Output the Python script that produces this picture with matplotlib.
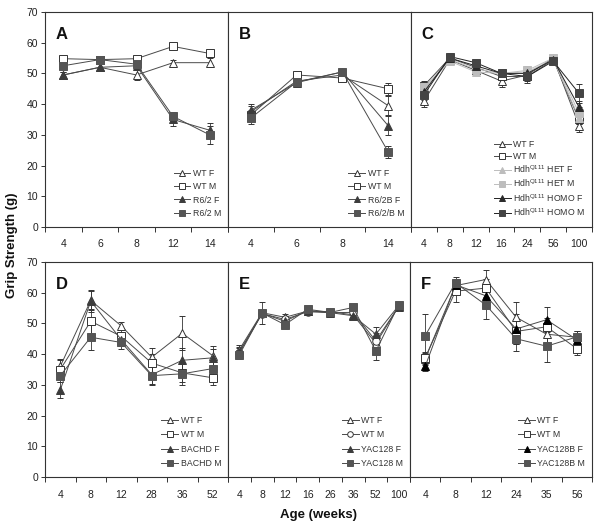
import matplotlib
matplotlib.use("Agg")
import matplotlib.pyplot as plt
import numpy as np

plt.rcParams['font.family'] = ['Liberation Sans', 'DejaVu Sans']

# ---------------- data ----------------
a_cats = ["4", "6", "8", "12", "14"]
a_wtf = [49.5, 52, 49.5, 53.5, 53.5]
a_wtm = [54.8, 54.5, 54.8, 58.8, 56.5]
a_mf = [49.5, 52, 52.5, 35, 31.5]
a_mm = [52.5, 54.5, 53, 36, 30]
a_wtf_e = [1, 1, 1.5, 1, 1.5]
a_wtm_e = [1, 1, 1, 1, 1]
a_mf_e = [1, 1, 1, 2, 2.5]
a_mm_e = [1, 1, 1, 1.5, 3]

b_cats = ["4", "6", "8", "14"]
b_wtf = [37.5, 47.5, 49.5, 39.5]
b_wtm = [36.5, 49.5, 48.5, 45]
b_mf = [38, 47, 50.5, 33]
b_mm = [35.5, 47.2, 50.5, 24.5]
b_wtf_e = [2, 1, 1, 3]
b_wtm_e = [1.5, 1, 1, 2]
b_mf_e = [2, 1, 1, 3]
b_mm_e = [2, 1, 1, 2]

c_cats = ["4", "8", "12", "16", "24", "56", "100"]
c_wtf = [41, 54.5, 51, 47.5, 49.5, 55, 33]
c_wtm = [46, 55, 52, 49, 49, 54.5, 35]
c_hetf = [45, 54, 50.5, 50, 50.5, 54.5, 35.5]
c_hetm = [45.5, 54.5, 51.5, 50, 51, 55, 37]
c_homf = [44, 55, 52.5, 50, 50, 54.5, 39]
c_homm = [43, 55.5, 53.5, 50, 49, 54, 43.5]
c_wtf_e = [2, 1, 1, 2, 1.5, 1, 2]
c_wtm_e = [1.5, 1, 1, 2, 2, 1, 1.5]
c_hetf_e = [1.5, 1, 1, 1.5, 1.5, 1, 2]
c_hetm_e = [1.5, 1, 1, 1.5, 1.5, 1, 2]
c_homf_e = [1.5, 1, 1, 1.5, 1.5, 1, 2]
c_homm_e = [1.5, 1, 1, 1.5, 1.5, 1, 3]

d_cats = ["4", "8", "12", "28", "36", "52"]
d_wtf = [36, 57.5, 49.2, 39, 46.8, 39.5]
d_wtm = [35, 50.7, 45.8, 37.1, 33.9, 32.3]
d_mf = [28.3, 57.3, 44.7, 33.3, 38, 38.8]
d_mm = [33, 45.5, 43.8, 33, 33.6, 35.3]
d_wtf_e = [2.5, 3, 1.2, 3, 5.5, 3]
d_wtm_e = [3, 4, 2, 3, 3, 2.5]
d_mf_e = [2.5, 3.5, 2, 3, 4, 3]
d_mm_e = [2, 4, 2, 3, 3.5, 3]

e_cats = ["4", "8", "12", "16", "26", "36", "52", "100"]
e_wtf = [41.5, 53.5, 52, 54, 53.8, 52.8, 43.5, 55.5]
e_wtm = [40.5, 53.2, 51.3, 53.8, 53.5, 53.6, 44.3, 55.5]
e_mf = [40.8, 53.3, 50.7, 54.2, 53.5, 52.5, 46.5, 55.8]
e_mm = [39.8, 53.4, 49.6, 54.6, 53.6, 55.2, 41, 56]
e_wtf_e = [1.5, 1, 1, 1, 1, 1, 2.5, 1]
e_wtm_e = [1.5, 1, 1, 1, 1, 1, 2.5, 1]
e_mf_e = [1.5, 1, 1, 1, 1, 1, 2.5, 1]
e_mm_e = [1.5, 3.5, 1, 1, 1, 1, 3, 1]

f_cats = ["4", "8", "12", "24", "35", "56"]
f_wtf = [38.5, 62.3, 64.3, 52, 46.5, 45.5]
f_wtm = [38.8, 60.5, 61.5, 47.4, 48.9, 41.8]
f_mf = [36, 62.6, 59, 48.2, 51.2, 44.7]
f_mm = [46, 63.2, 56, 45, 42.6, 45.6]
f_wtf_e = [2, 2, 3, 5, 3, 2]
f_wtm_e = [2, 3.5, 3, 4, 3, 2]
f_mf_e = [1.5, 2, 3, 5, 4, 2]
f_mm_e = [7, 2, 4.5, 4, 5, 2]

# ---------------- styles ----------------
LINE = '#4a4a4a'
DARK = '#3c3c3c'
MGRAY = '#555555'
LGRAY = '#bdbdbd'


def style(marker, face, edge, line):
    return dict(marker=marker, mfc=face, mec=edge, color=line)


ST_WTF = style('^', 'white', '#333333', LINE)
ST_WTM = style('s', 'white', '#333333', LINE)
ST_WTM_C = style('o', 'white', '#333333', LINE)
ST_MF = style('^', DARK, DARK, LINE)
ST_MM = style('s', MGRAY, MGRAY, LINE)
ST_MF_BLK = style('^', '#000000', '#000000', LINE)
ST_HETF = style('^', LGRAY, LGRAY, LGRAY)
ST_HETM = style('s', LGRAY, LGRAY, LGRAY)
ST_HOMF = style('^', '#2a2a2a', '#2a2a2a', '#222222')
ST_HOMM = style('s', '#444444', '#444444', '#222222')

fig = plt.figure(figsize=(6.0, 5.27), dpi=100)
W, H = 600.0, 527.0


def make_ax(x0, x1, ytop, ybot):
    return fig.add_axes([x0 / W, 1 - ybot / H, (x1 - x0) / W, (ybot - ytop) / H])


def panel(ax, letter, cats, series, left_labels, spacing=0.6):
    n = len(cats)
    x = np.arange(n)
    handles, labels = [], []
    for label, vals, errs, st in series:
        c = ax.errorbar(x, vals, yerr=errs, color=st['color'], lw=0.7,
                        marker=st['marker'], mfc=st['mfc'], mec=st['mec'],
                        mew=0.7, ms=5.4, ecolor='#333333', elinewidth=0.6,
                        capsize=2.0, capthick=0.6)
        handles.append(c[0])
        labels.append(label)
    ax.set_xlim(-0.5, n - 0.5)
    ax.set_ylim(0, 70)
    ax.set_xticks(x)
    ax.set_xticklabels(cats)
    ax.set_xticks(np.arange(n + 1) - 0.5, minor=True)
    ax.tick_params(axis='x', which='major', length=0, pad=9,
                   labelsize=7.5, labelcolor='#222222')
    ax.tick_params(axis='x', which='minor', length=3.5, width=0.7,
                   direction='out', color='#333333')
    ax.set_yticks(np.arange(0, 71, 10))
    if left_labels:
        ax.tick_params(axis='y', length=3, width=0.7, direction='out',
                       labelsize=7.5, labelcolor='#222222', color='#333333', pad=2)
    else:
        ax.tick_params(axis='y', length=0, labelleft=False)
    for s in ax.spines.values():
        s.set_linewidth(0.8)
        s.set_color('#333333')
    ax.text(0.06, 0.93, letter, transform=ax.transAxes, fontsize=12,
            fontweight='bold', va='top', ha='left', color='#111111')
    leg = ax.legend(handles, labels, loc='lower right', frameon=False,
                    fontsize=6.3, handlelength=1.9, handletextpad=0.3,
                    labelspacing=spacing, borderaxespad=0.15, markerscale=0.75,
                    bbox_to_anchor=(0.99, 0.02))
    for t in leg.get_texts():
        t.set_color('#333333')


TOP0, TOP1 = 12, 227
BOT0, BOT1 = 262, 477

axA = make_ax(45, 228, TOP0, TOP1)
axB = make_ax(228, 411, TOP0, TOP1)
axC = make_ax(411, 592, TOP0, TOP1)
axD = make_ax(45, 228, BOT0, BOT1)
axE = make_ax(228, 410, BOT0, BOT1)
axF = make_ax(410, 592, BOT0, BOT1)

panel(axA, 'A', a_cats, [
    ('WT F', a_wtf, a_wtf_e, ST_WTF),
    ('WT M', a_wtm, a_wtm_e, ST_WTM),
    ('R6/2 F', a_mf, a_mf_e, ST_MF),
    ('R6/2 M', a_mm, a_mm_e, ST_MM)], True, spacing=0.5)

panel(axB, 'B', b_cats, [
    ('WT F', b_wtf, b_wtf_e, ST_WTF),
    ('WT M', b_wtm, b_wtm_e, ST_WTM),
    ('R6/2B F', b_mf, b_mf_e, ST_MF),
    ('R6/2/B M', b_mm, b_mm_e, ST_MM)], False, spacing=0.5)

panel(axC, 'C', c_cats, [
    ('WT F', c_wtf, c_wtf_e, ST_WTF),
    ('WT M', c_wtm, c_wtm_e, ST_WTM),
    ('Hdh$^{\\mathregular{Q111}}$ HET F', c_hetf, c_hetf_e, ST_HETF),
    ('Hdh$^{\\mathregular{Q111}}$ HET M', c_hetm, c_hetm_e, ST_HETM),
    ('Hdh$^{\\mathregular{Q111}}$ HOMO F', c_homf, c_homf_e, ST_HOMF),
    ('Hdh$^{\\mathregular{Q111}}$ HOMO M', c_homm, c_homm_e, ST_HOMM)], False,
    spacing=0.3)

panel(axD, 'D', d_cats, [
    ('WT F', d_wtf, d_wtf_e, ST_WTF),
    ('WT M', d_wtm, d_wtm_e, ST_WTM),
    ('BACHD F', d_mf, d_mf_e, ST_MF),
    ('BACHD M', d_mm, d_mm_e, ST_MM)], True)

panel(axE, 'E', e_cats, [
    ('WT F', e_wtf, e_wtf_e, ST_WTF),
    ('WT M', e_wtm, e_wtm_e, ST_WTM_C),
    ('YAC128 F', e_mf, e_mf_e, ST_MF),
    ('YAC128 M', e_mm, e_mm_e, ST_MM)], False)

panel(axF, 'F', f_cats, [
    ('WT F', f_wtf, f_wtf_e, ST_WTF),
    ('WT M', f_wtm, f_wtm_e, ST_WTM),
    ('YAC128B F', f_mf, f_mf_e, ST_MF_BLK),
    ('YAC128B M', f_mm, f_mm_e, ST_MM)], False)

fig.text(318 / W, 1 - 515 / H, 'Age (weeks)', ha='center', va='center',
         fontsize=9.5, fontweight='bold', color='#111111')
fig.text(12 / W, 1 - 245 / H, 'Grip Strength (g)', ha='center', va='center',
         rotation=90, fontsize=9.5, fontweight='bold', color='#111111')

fig.savefig('out.png', dpi=100, facecolor='white')
